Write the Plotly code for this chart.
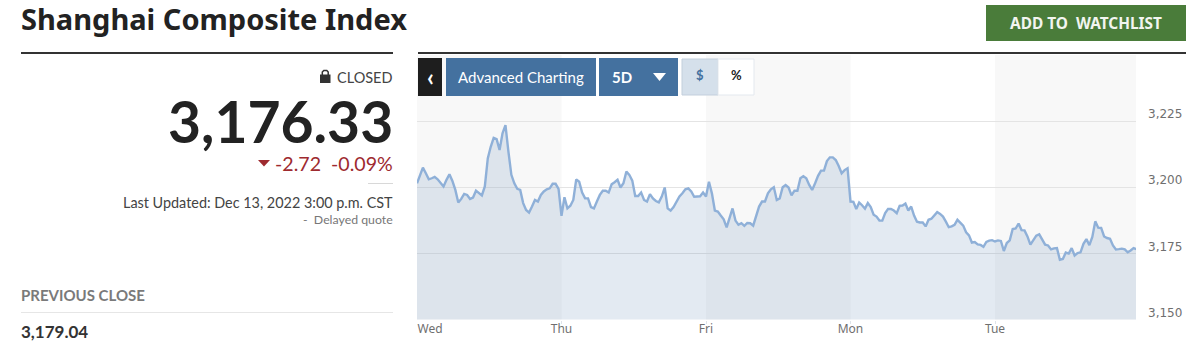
import plotly.graph_objects as go

W, H = 1197, 352

# Index level per 5-minute step, one list per trading session
wed = [3201.5, 3204.7, 3207.4, 3205.3, 3203.0, 3203.4, 3203.9, 3203.0, 3201.5, 3200.3, 3202.8, 3204.9,
       3202.4, 3199.0, 3194.2, 3195.6, 3197.5, 3197.1, 3195.6, 3196.1, 3198.7, 3197.7, 3196.9, 3200.3,
       3210.9, 3215.3, 3218.7, 3218.2, 3214.1, 3220.4, 3223.5, 3213.5, 3204.7, 3201.5, 3199.4, 3199.0,
       3194.0, 3191.4, 3190.4, 3192.7, 3195.2, 3194.6, 3197.1, 3198.4, 3199.2, 3199.6, 3201.3, 3201.3, 3199.4]
thu = [3189.2, 3196.2, 3192.0, 3193.0, 3195.2, 3203.0, 3202.1, 3198.0, 3195.8, 3195.8, 3192.5, 3192.0,
       3194.6, 3197.1, 3198.7, 3198.7, 3198.0, 3201.1, 3201.9, 3202.8, 3199.9, 3201.5, 3205.9, 3204.7,
       3202.5, 3196.7, 3196.7, 3198.0, 3195.2, 3194.6, 3197.4, 3195.8, 3194.8, 3194.3, 3196.5, 3199.9,
       3192.0, 3191.2, 3192.5, 3194.6, 3196.5, 3197.7, 3199.2, 3199.6, 3198.4, 3196.4, 3196.5, 3196.6, 3198.0]
fri = [3196.5, 3202.1, 3197.7, 3191.2, 3190.8, 3189.3, 3187.9, 3184.8, 3188.3, 3192.0, 3187.4, 3185.8,
       3186.4, 3185.4, 3186.5, 3186.4, 3185.5, 3188.9, 3192.7, 3194.6, 3194.6, 3197.7, 3199.2, 3200.0,
       3195.2, 3195.8, 3200.0, 3200.8, 3199.9, 3196.9, 3198.7, 3198.7, 3203.4, 3204.2, 3203.4, 3200.9,
       3199.0, 3201.5, 3204.3, 3206.3, 3206.3, 3209.9, 3211.3, 3211.3, 3210.3, 3208.0, 3205.3, 3206.5, 3207.2]
mon = [3194.6, 3194.5, 3191.8, 3194.2, 3193.2, 3191.9, 3194.0, 3192.5, 3189.6, 3188.9, 3187.4, 3187.4,
       3190.2, 3191.8, 3191.8, 3191.2, 3190.2, 3193.0, 3193.1, 3193.8, 3191.2, 3192.7, 3189.3, 3187.0,
       3186.7, 3186.7, 3185.2, 3187.7, 3188.1, 3189.3, 3190.6, 3189.9, 3188.9, 3187.0, 3184.9, 3185.2,
       3185.8, 3187.7, 3186.4, 3185.5, 3183.0, 3181.8, 3179.1, 3179.3, 3178.4, 3178.2, 3177.5, 3179.3, 3179.8, 3180.0]
tue = [3179.5, 3179.9, 3179.7, 3175.9, 3178.9, 3179.9, 3184.2, 3184.4, 3186.3, 3183.8, 3183.7, 3181.4,
       3178.3, 3180.2, 3181.7, 3182.2, 3180.2, 3178.3, 3178.0, 3176.5, 3176.9, 3177.0, 3172.6, 3172.9,
       3175.3, 3174.9, 3177.0, 3174.2, 3175.1, 3175.4, 3178.6, 3180.4, 3178.1, 3181.2, 3187.1, 3184.7,
       3184.6, 3181.4, 3180.8, 3180.5, 3178.0, 3176.5, 3176.6, 3176.8, 3176.5, 3175.4, 3176.1, 3177.0, 3176.6]

sessions = [wed, thu, fri, mon, tue]
day_labels = ["Wed", "Thu", "Fri", "Mon", "Tue"]
y_ticks = [3150, 3175, 3200, 3225]

LEFT, RIGHT, TOP, BOTTOM = 417, 1136, 55, 319.5
px_per_day = 144.5
x_end = (RIGHT - LEFT) / px_per_day


def X(p):
    return p / W


def Y(p):
    return 1 - p / H


xs, ys = [], []
for d, s in enumerate(sessions):
    xs += [d + i / len(s) for i in range(len(s))]
    ys += s

fig = go.Figure()
fig.add_trace(go.Scatter(
    x=xs, y=ys, mode="lines", fill="tozeroy",
    line=dict(color="#8fb0d8", width=2.4),
    fillcolor="rgba(70,115,165,0.15)", hoverinfo="skip", showlegend=False,
))

shapes = []
# alternating day bands
for d in (0, 2, 4):
    shapes.append(dict(type="rect", xref="x", yref="paper", x0=d, x1=min(d + 1, x_end),
                       y0=Y(BOTTOM), y1=Y(TOP), fillcolor="#f8f8f8", line_width=0, layer="below"))


def rect(x0, y0, x1, y1, fill, line=None, lw=0):
    shapes.append(dict(type="rect", xref="paper", yref="paper", x0=X(x0), x1=X(x1), y0=Y(y1), y1=Y(y0),
                       fillcolor=fill, line=dict(color=line or fill, width=lw), layer="above"))


def hline(x0, x1, y, color, w):
    shapes.append(dict(type="line", xref="paper", yref="paper", x0=X(x0), x1=X(x1), y0=Y(y), y1=Y(y),
                       line=dict(color=color, width=w), layer="above"))


def poly(points, fill):
    d = "M " + " L ".join(f"{X(a):.5f},{Y(b):.5f}" for a, b in points) + " Z"
    shapes.append(dict(type="path", xref="paper", yref="paper", path=d, fillcolor=fill, line_width=0, layer="above"))


hline(21, 393, 53, "#333333", 2)
hline(418, 1186, 53, "#333333", 2)
hline(368, 393, 183.5, "#d8d8d8", 1)
hline(21, 393, 312.5, "#e6e6e6", 1)
rect(986, 5, 1186, 41, "#4a7c3a")
rect(418, 58, 442, 96, "#1e1e1e")
rect(446, 58, 596, 96, "#44719f")
rect(599, 58, 678, 96, "#44719f")
rect(682, 59, 718, 95, "#d5e0eb", "#c3cfdc", 1)
rect(718, 59, 754, 95, "#ffffff", "#e3e8ee", 1)
poly([(653, 73), (666, 73), (659.5, 81)], "#ffffff")
poly([(258, 160), (270, 160), (264, 166.5)], "#9e2a2f")
rect(320, 74.5, 330.5, 83, "#333333")
shapes.append(dict(type="path", xref="paper", yref="paper",
                   path=f"M {X(322.3):.5f},{Y(75):.5f} L {X(322.3):.5f},{Y(72):.5f} "
                        f"L {X(323.8):.5f},{Y(70.5):.5f} L {X(326.8):.5f},{Y(70.5):.5f} "
                        f"L {X(328.2):.5f},{Y(72):.5f} L {X(328.2):.5f},{Y(75):.5f}",
                   line=dict(color="#333333", width=1.5), layer="above"))

annotations = []


def text(x, y, s, size, color, anchor="left", family="Lato", weight=400):
    annotations.append(dict(xref="paper", yref="paper", x=X(x), y=Y(y), text=s, showarrow=False,
                            xanchor=anchor, yanchor="middle", borderpad=0, borderwidth=0,
                            font=dict(family=family, size=size, color=color, weight=weight)))


text(21, 18, "Shanghai Composite Index", 29, "#222222", family="Noto Sans", weight=700)
text(393, 77, "CLOSED", 14.5, "#444444", "right")
text(393, 121, "3,176.33", 57, "#222222", "right", weight=700)
text(393, 163, "-2.72&#160;&#160;-0.09%", 19.6, "#9e2a2f", "right")
text(393, 202, "Last Updated: Dec 13, 2022 3:00 p.m. CST", 14.4, "#444444", "right")
text(393, 219, "-&#160;&#160;Delayed quote", 12.3, "#777777", "right")
text(21, 295, "PREVIOUS CLOSE", 15, "#7a7a7a", weight=700)
text(21, 331, "3,179.04", 17, "#333333", weight=700)
text(1086, 24, "ADD TO&#160;&#160;WATCHLIST", 15.4, "#f2f5f0", "center", "Noto Sans", 700)
text(430, 76, "‹", 24, "#ffffff", "center", weight=700)
text(521, 77, "Advanced Charting", 15, "#ffffff", "center")
text(622, 77, "5D", 15, "#ffffff", "center", weight=700)
text(700, 75, "$", 13, "#44719f", "center", weight=700)
text(736, 75, "%", 13, "#222222", "center", weight=700)

fig.update_layout(
    width=W, height=H, margin=dict(l=0, r=0, t=0, b=0),
    paper_bgcolor="#ffffff", plot_bgcolor="#ffffff",
    shapes=shapes, annotations=annotations, showlegend=False,
    xaxis=dict(domain=[X(LEFT), X(RIGHT)], range=[0, x_end], showgrid=False, zeroline=False, automargin=False,
               tickmode="array", tickvals=[0.09, 1, 2, 3, 4], ticktext=day_labels, ticks="",
               tickfont=dict(family="Noto Sans", size=12, color="#6f6f6f"),
               minor=dict(ticks="outside", ticklen=3, tickcolor="#dfe4ea", tickmode="array", tickvals=[1, 2, 3, 4])),
    yaxis=dict(domain=[Y(BOTTOM), Y(TOP)], range=[3150, 3250], side="right", zeroline=False, automargin=False,
               tickmode="array", tickvals=y_ticks, ticktext=[f"{v:,}" for v in y_ticks],
               gridcolor="#e4e4e4", gridwidth=1, showline=False, ticks="",
               ticklabelstandoff=11, ticklabelshift=-7,
               tickfont=dict(family="DejaVu Sans", size=12, color="#6f6f6f")),
)

fig.write_html("out.html", config={"displayModeBar": False},
               post_script="document.body.style.margin='0';document.documentElement.style.overflow='hidden';")
